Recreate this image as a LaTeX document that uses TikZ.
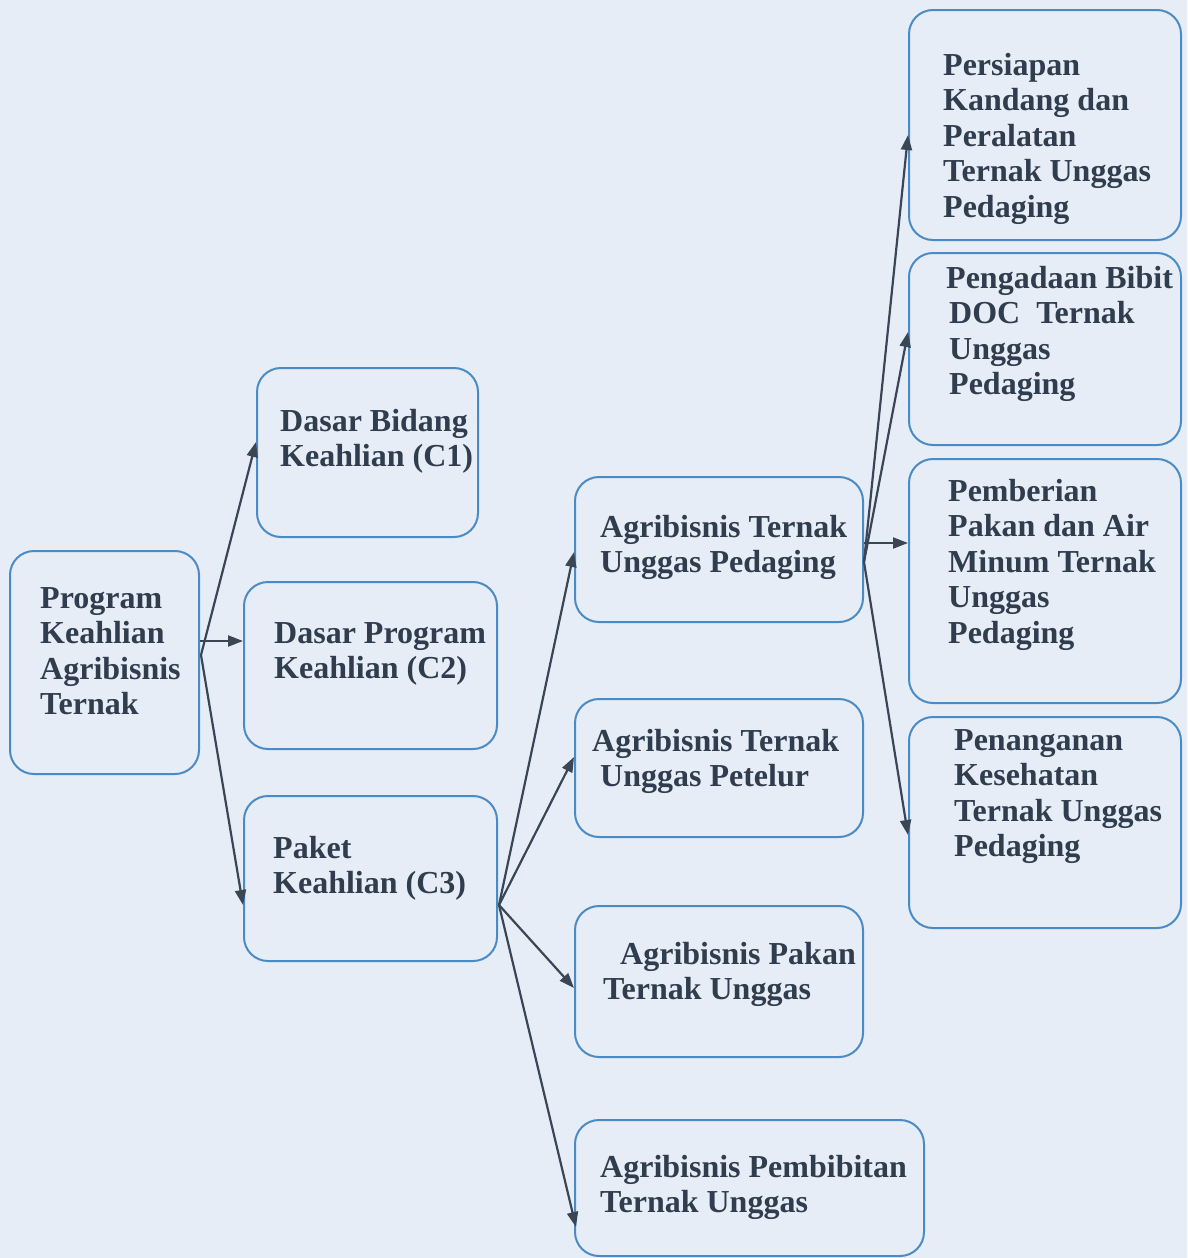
\documentclass[tikz,border=0pt]{standalone}
\usepackage{fontspec}
\setmainfont{Liberation Serif}
\usetikzlibrary{arrows.meta}
\definecolor{bg}{HTML}{E7EDF6}
\definecolor{boxline}{HTML}{4A8BC6}
\definecolor{txt}{HTML}{2F3D4E}
\definecolor{arr}{HTML}{3A4656}
\tikzset{
  box/.style={draw=boxline, line width=2pt, rounded corners=24pt},
  lbl/.style={anchor=north west, inner sep=0pt, align=left, text=txt,
    font=\fontsize{32}{35.5}\selectfont\bfseries},
  conn/.style={draw=arr, line width=2.2pt, -{Triangle[length=15pt,width=11pt]}}
}
\begin{document}
\begin{tikzpicture}[x=1pt,y=-1pt]
\fill[bg] (0,0) rectangle (1187,1258);
\useasboundingbox (0,0) rectangle (1187,1258);
% boxes
\node[box] (b1) at (104.5,662.5) [minimum width=189pt, minimum height=223pt] {};
\node[box] (b2) at (367.5,452.5) [minimum width=221pt, minimum height=169pt] {};
\node[box] (b3) at (370.5,665.5) [minimum width=253pt, minimum height=167pt] {};
\node[box] (b4) at (370.5,878.5) [minimum width=253pt, minimum height=165pt] {};
\node[box] (b5) at (719,549.5) [minimum width=288pt, minimum height=145pt] {};
\node[box] (b6) at (719,768) [minimum width=288pt, minimum height=138pt] {};
\node[box] (b7) at (719,981.5) [minimum width=288pt, minimum height=151pt] {};
\node[box] (b8) at (749.5,1188) [minimum width=349pt, minimum height=136pt] {};
\node[box] (b9) at (1045,125) [minimum width=272pt, minimum height=230pt] {};
\node[box] (b10) at (1045,349) [minimum width=272pt, minimum height=192pt] {};
\node[box] (b11) at (1045,581) [minimum width=272pt, minimum height=244pt] {};
\node[box] (b12) at (1045,822.5) [minimum width=272pt, minimum height=211pt] {};
% labels
\node[lbl] (t1) at (40,587) {Program\\Keahlian\\Agribisnis\\Ternak};
\node[lbl] (t2) at (280,409) {Dasar Bidang\\Keahlian (C1)};
\node[lbl] (t3) at (274,622) {Dasar Program\\Keahlian (C2)};
\node[lbl] (t4) at (273,836) {Paket\\Keahlian (C3)};
\node[lbl] (t5) at (600,515) {Agribisnis Ternak\\Unggas Pedaging};
\node[lbl] (t6) at (592,729) {Agribisnis Ternak\\\hspace*{8pt}Unggas Petelur};
\node[lbl] (t7) at (603,942) {\hspace*{17pt}Agribisnis Pakan\\Ternak Unggas};
\node[lbl] (t8) at (600,1155) {Agribisnis Pembibitan\\Ternak Unggas};
\node[lbl] (t9) at (943,53) {Persiapan\\Kandang dan\\Peralatan\\Ternak Unggas\\Pedaging};
\node[lbl] (t10) at (946,266) {Pengadaan Bibit\\\hspace*{3pt}DOC\ \ Ternak\\\hspace*{3pt}Unggas\\\hspace*{3pt}Pedaging};
\node[lbl] (t11) at (948,479) {Pemberian\\Pakan dan Air\\Minum Ternak\\Unggas\\Pedaging};
\node[lbl] (t12) at (954,729) {Penanganan\\Kesehatan\\Ternak Unggas\\Pedaging};
% junction points
\coordinate (j1) at (201,655);
\coordinate (j1h) at (200,641);
\coordinate (j4) at (499,905);
\coordinate (j5) at (864,562);
\coordinate (j5h) at (864,543);
% connectors
\draw[conn] (j1) -- (b2.west |- 0,442);
\draw[conn] (j1h) -- (b3.west |- 0,641);
\draw[conn] (j1) -- (b4.west |- 0,905);
\draw[conn] (j4) -- (b5.west |- 0,552);
\draw[conn] (j4) -- (b6.west |- 0,757);
\draw[conn] (j4) -- (b7.west |- 0,988);
\draw[conn] (j4) -- ([xshift=2pt]b8.west |- 0,1227);
\draw[conn] (j5) -- (b9.west |- 0,135);
\draw[conn] (j5) -- (b10.west |- 0,332);
\draw[conn] (j5h) -- (b11.west |- 0,543);
\draw[conn] (j5) -- (b12.west |- 0,835);
\end{tikzpicture}
\end{document}
